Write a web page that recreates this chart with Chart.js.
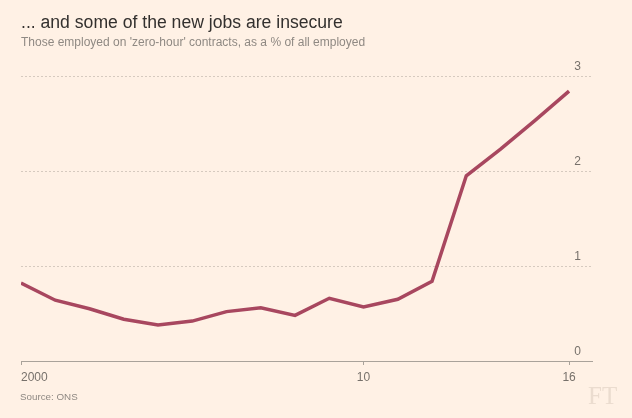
<!DOCTYPE html>
<html lang="en">
<head>
    <meta charset="UTF-8">
    <title>Zero-hour contracts</title>
    <script src="https://cdn.jsdelivr.net/npm/chart.js"></script>
    <style>
        body {
            margin: 0;
            background-color: #fff1e5;
            font-family: 'Liberation Sans', Arial, sans-serif;
        }
        #wrap {
            position: relative;
            width: 632px;
            height: 418px;
            overflow: hidden;
        }
        #zeroChart {
            position: absolute;
            left: 0;
            top: 0;
        }
        #title {
            position: absolute;
            left: 21px;
            top: 12px;
            font-size: 17.6px;
            color: #33302e;
            white-space: nowrap;
        }
        #subtitle {
            position: absolute;
            left: 21px;
            top: 35px;
            font-size: 12px;
            color: #8f8983;
            white-space: nowrap;
        }
        #source {
            position: absolute;
            left: 20px;
            top: 391px;
            font-size: 9.8px;
            color: #8f8983;
        }
        #logo {
            position: absolute;
            left: 588px;
            top: 382px;
            font-family: 'Liberation Serif', 'DejaVu Serif', serif;
            font-size: 25px;
            color: #ebdccf;
        }
    </style>
</head>
<body>
    <div id="wrap">
        <canvas id="zeroChart" width="632" height="418"></canvas>
        <div id="title">... and some of the new jobs are insecure</div>
        <div id="subtitle">Those employed on 'zero-hour' contracts, as a % of all employed</div>
        <div id="source">Source: ONS</div>
        <div id="logo">FT</div>
    </div>
    <script>
        // datos
        const years = [2000, 2001, 2002, 2003, 2004, 2005, 2006, 2007, 2008, 2009, 2010, 2011, 2012, 2013, 2014, 2015, 2016];
        const sharePct = [0.82, 0.64, 0.55, 0.44, 0.38, 0.42, 0.52, 0.56, 0.48, 0.66, 0.57, 0.65, 0.84, 1.95, 2.23, 2.53, 2.84];
        const xTicks = [2000, 2010, 2016];
        const xTickLabels = ['        2000', '10', '16'];
        const yTicks = [0, 1, 2, 3];

        const axisGrey = '#a9a29a';
        const textGrey = '#77716b';

        const ctx = document.getElementById('zeroChart').getContext('2d');
        const zeroChart = new Chart(ctx, {
            type: 'line',
            data: {
                datasets: [{
                    data: years.map((y, i) => ({ x: y, y: sharePct[i] })),
                    borderColor: '#a8475f',
                    borderWidth: 3.5,
                    pointRadius: 0,
                    tension: 0,
                    fill: false
                }]
            },
            options: {
                responsive: false,
                animation: false,
                layout: {
                    padding: { left: 21, right: 40, top: 76, bottom: 0 }
                },
                plugins: {
                    legend: { display: false },
                    tooltip: { enabled: false }
                },
                scales: {
                    x: {
                        type: 'linear',
                        min: 2000,
                        max: 2016.67,
                        afterBuildTicks: (s) => { s.ticks = xTicks.map(v => ({ value: v })); },
                        afterFit: (s) => { s.height = 57; s.paddingLeft = 0; s.paddingRight = 0; },
                        grid: {
                            display: true,
                            drawOnChartArea: false,
                            drawTicks: true,
                            tickLength: 4,
                            tickColor: axisGrey
                        },
                        border: { display: true, color: axisGrey, width: 1 },
                        ticks: {
                            autoSkip: false,
                            maxRotation: 0,
                            padding: 5,
                            color: textGrey,
                            font: { family: "'Liberation Sans', Arial, sans-serif", size: 12 },
                            callback: (v) => xTickLabels[xTicks.indexOf(v)]
                        }
                    },
                    y: {
                        position: 'right',
                        min: 0,
                        max: 3,
                        afterBuildTicks: (s) => { s.ticks = yTicks.map(v => ({ value: v })); },
                        afterFit: (s) => { s.width = 0; s.paddingTop = 0; s.paddingBottom = 0; },
                        grid: {
                            drawTicks: false,
                            lineWidth: 1,
                            color: (c) => (c.tick && c.tick.value === 0) ? 'rgba(0,0,0,0)' : '#d6cabf'
                        },
                        border: { display: false, dash: [2, 2] },
                        ticks: {
                            mirror: true,
                            padding: -11,
                            labelOffset: -9,
                            color: textGrey,
                            font: { family: "'Liberation Sans', Arial, sans-serif", size: 12 }
                        }
                    }
                }
            }
        });
    </script>
</body>
</html>
